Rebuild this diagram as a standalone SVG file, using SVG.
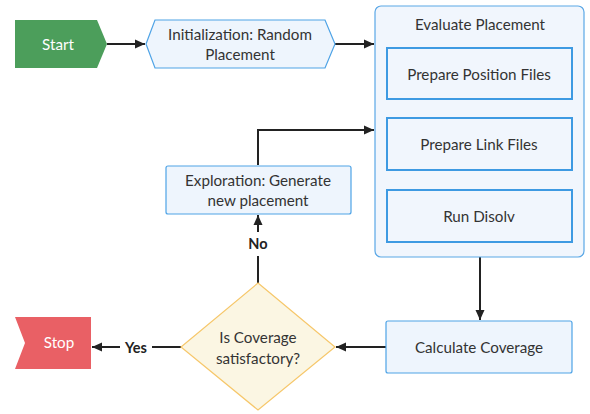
<svg xmlns="http://www.w3.org/2000/svg" width="590" height="414" viewBox="0 0 590 414">
<defs>
<style>
text{font-family:Lato,"Open Sans","Liberation Sans",sans-serif;font-size:15.2px;fill:#333;text-anchor:middle;dominant-baseline:central}
.w{fill:#fff}
.b{font-weight:bold;fill:#222;font-size:14.5px}
.conn{stroke:#222;stroke-width:2;fill:none}
.blue{fill:#eef5fd;stroke:#4ea3e6;stroke-width:1.2}
.inner{fill:#f1f6fd;stroke:#3e9ae2;stroke-width:2}
</style>
<marker id="ah" viewBox="0 0 10 10" refX="10" refY="5" markerWidth="10" markerHeight="10" markerUnits="userSpaceOnUse" orient="auto">
<path d="M0,0.5 L10,5 L0,9.5 z" fill="#222"/>
</marker>
</defs>
<rect width="590" height="414" fill="#fff"/>
<g id="connectors">
<path class="conn" d="M107,44 H145" marker-end="url(#ah)"/>
<path class="conn" d="M335,44 H374" marker-end="url(#ah)"/>
<path class="conn" d="M480,257 V320" marker-end="url(#ah)"/>
<path class="conn" d="M386,347 H336" marker-end="url(#ah)"/>
<path class="conn" d="M181,347 H152"/>
<path class="conn" d="M120,347 H92" marker-end="url(#ah)"/>
<text class="b" x="136" y="347">Yes</text>
<path class="conn" d="M258,283 V256"/>
<path class="conn" d="M258,232 V215" marker-end="url(#ah)"/>
<text class="b" x="258" y="243">No</text>
<path class="conn" d="M258,165 V130 H374" marker-end="url(#ah)"/>
</g>
<g id="start">
<path d="M15,20 H97 L107,44 L97,68 H15 z" fill="#4c9e5b"/>
<text class="w" x="58" y="44">Start</text>
</g>
<g id="init">
<path class="blue" d="M146,44 L155,20 H325 L335,44 L325,68 H155 z"/>
<text x="240" y="34">Initialization: Random</text>
<text x="240" y="54">Placement</text>
</g>
<g id="evaluate">
<rect x="375" y="6" width="209" height="251" rx="6" fill="#f1f6fd" stroke="#5aa7e6" stroke-width="1.2"/>
<text x="480" y="24">Evaluate Placement</text>
</g>
<g id="prep-pos">
<rect class="inner" x="387" y="48" width="185" height="51"/>
<text x="479" y="74">Prepare Position Files</text>
</g>
<g id="prep-link">
<rect class="inner" x="387" y="118" width="185" height="52"/>
<text x="479" y="144">Prepare Link Files</text>
</g>
<g id="run-disolv">
<rect class="inner" x="387" y="190" width="185" height="52"/>
<text x="479" y="216">Run Disolv</text>
</g>
<g id="calc">
<rect class="blue" x="386" y="321" width="186" height="52" rx="2"/>
<text x="479" y="347">Calculate Coverage</text>
</g>
<g id="decision">
<path d="M258,283 L335,347 L258,410 L181,347 z" fill="#fbf6e3" stroke="#f6c76a" stroke-width="1.2"/>
<text x="258" y="337">Is Coverage</text>
<text x="258" y="358">satisfactory?</text>
</g>
<g id="explore">
<rect class="blue" x="166" y="166" width="185" height="48" rx="2"/>
<text x="258" y="180">Exploration: Generate</text>
<text x="258" y="200">new placement</text>
</g>
<g id="stop">
<path d="M15,317 H91 V369 H15 L25,343 z" fill="#e96065"/>
<text class="w" x="59" y="342">Stop</text>
</g>
</svg>
